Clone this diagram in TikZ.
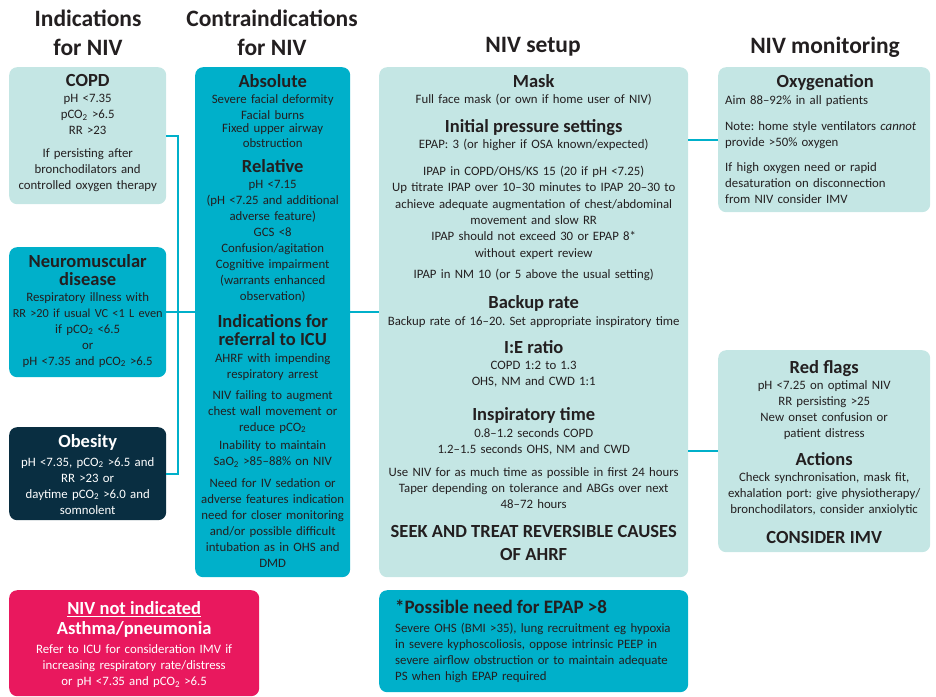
\documentclass[tikz,border=0pt]{standalone}
\usepackage{fontspec}
\setmainfont{Carlito}
\usepackage{tikz}
\usetikzlibrary{calc,positioning}

\definecolor{paleteal}{RGB}{196,230,228}
\definecolor{nivteal}{RGB}{0,176,202}
\definecolor{niavy}{RGB}{9,46,65}
\definecolor{niypink}{RGB}{233,24,94}
\definecolor{inkgrey}{RGB}{35,31,32}

\newcommand\hd[1]{{\centering\fontsize{18.5}{19}\selectfont\bfseries #1\par}}
\newcommand\gap[1][6pt]{\vspace{#1}}
\newcommand\cotwo{CO\textsubscript{2}}

\tikzset{
	panel/.style={rectangle, rounded corners=8pt, inner sep=0pt, anchor=north west},
	body/.style={inner sep=0pt, anchor=north, align=center, text=inkgrey,
		font=\fontsize{12.8}{16}\selectfont\frenchspacing},
	colhead/.style={inner sep=0pt, align=center, text=inkgrey,
		font=\fontsize{23.5}{29}\selectfont\bfseries},
	link/.style={draw=nivteal, line width=2pt}
}

\begin{document}
\begin{tikzpicture}[x=1pt, y=-1pt]
		%%%%% START %%%%%
		\useasboundingbox (0,0) rectangle (936,696);
		
		\node[colhead] (hindic) at (88,33) {Indications\\for NIV};
		\node[colhead] (hcontra) at (272,33) {Contraindications\\for NIV};
		\node[colhead] (hsetup) at (533,47) {NIV setup};
		\node[colhead] (hmonit) at (825,47) {NIV monitoring};
		
		%% indications
		\node[panel, fill=paleteal, minimum width=157, minimum height=137] (copd) at (9,67) {};
		\node[body, text width=170] (copdtxt) at ([yshift=-7pt]copd.north) {%
			\hd{COPD}
			pH <7.35\\ p\cotwo{} >6.5\\ RR >23\par\gap[7pt]
			If persisting after\\ bronchodilators and\\ controlled oxygen therapy};
		
		\node[panel, fill=nivteal, minimum width=157, minimum height=130] (neuro) at (9,247) {};
		\node[body, text width=170] (neurotxt) at ([yshift=-7pt]neuro.north) {%
			{\centering\fontsize{18.5}{18}\selectfont\bfseries Neuromuscular\\ disease\par}
			Respiratory illness with\\ {\fontsize{12.3}{16}\selectfont RR >20 if usual VC <1 L even}\\ if p\cotwo{} <6.5\\ or\\ pH <7.35 and p\cotwo{} >6.5};
		
		\node[panel, fill=niavy, minimum width=157, minimum height=93] (obese) at (9,427) {};
		\node[body, text width=170, text=white] (obesetxt) at ([yshift=-7pt]obese.north) {%
			\hd{Obesity}\gap[3pt]
			pH <7.35, p\cotwo{} >6.5 and\\ RR >23 or\\ daytime p\cotwo{} >6.0 and\\ somnolent};
		
		\node[panel, fill=niypink, minimum width=250, minimum height=106] (notniv) at (9,590) {};
		\node[body, text width=250, text=white] (notnivtxt) at ([yshift=-11pt]notniv.north) {%
			{\centering\fontsize{18.5}{20}\selectfont\bfseries \underline{NIV not indicated}\\ Asthma/pneumonia\par}\gap[3.5pt]
			Refer to ICU for consideration IMV if\\ increasing respiratory rate/distress\\ or pH <7.35 and p\cotwo{} >6.5};
		
		%% contraindications
		\node[panel, fill=nivteal, minimum width=155, minimum height=510] (contra) at (195,67) {};
		\node[body, text width=170] (contratxt) at ([yshift=-7pt]contra.north) {%
			\hd{Absolute}
			Severe facial deformity\\ Facial burns\\[-3pt] Fixed upper airway\\[-1pt] obstruction\par\gap[6pt]
			\hd{Relative}
			pH <7.15\\ (pH <7.25 and additional\\ adverse feature)\\ GCS <8\\ Confusion/agitation\\ Cognitive impairment\\ (warrants enhanced\\ observation)\par\gap[9pt]
			{\centering\fontsize{18.5}{18}\selectfont\bfseries Indications for\\ referral to ICU\par}\gap[1pt]
			AHRF with impending\\ respiratory arrest\par\gap[5pt]
			NIV failing to augment\\ chest wall movement or\\ reduce p\cotwo\par\gap[2.5pt]
			Inability to maintain\\ SaO\textsubscript{2} >85--88\% on NIV\par\gap[5.5pt]
			Need for IV sedation or\\ adverse features indication\\ need for closer monitoring\\ and/or possible difficult\\ intubation as in OHS and\\ DMD};
		
		%% setup
		\node[panel, fill=paleteal, minimum width=309, minimum height=510] (setup) at (379,67) {};
		\node[body, text width=305, font=\fontsize{12.8}{16.3}\selectfont\frenchspacing] (setuptxt) at ([yshift=-7pt]setup.north) {%
			\hd{Mask}
			Full face mask (or own if home user of NIV)\par\gap[10pt]
			\hd{Initial pressure settings}
			EPAP: 3 (or higher if OSA known/expected)\par\gap[10.5pt]
			IPAP in COPD/OHS/KS 15 (20 if pH <7.25)\\ Up titrate IPAP over 10--30 minutes to IPAP 20--30 to\\ achieve adequate augmentation of chest/abdominal\\ movement and slow RR\\ IPAP should not exceed 30 or EPAP 8*\\ without expert review\par\gap[5.5pt]
			IPAP in NM 10 (or 5 above the usual setting)\par\gap[11pt]
			\hd{Backup rate}
			Backup rate of 16--20. Set appropriate inspiratory time\par\gap[9pt]
			\hd{I:E ratio}
			COPD 1:2 to 1.3\\ OHS, NM and CWD 1:1\par\gap[16pt]
			\hd{Inspiratory time}
			0.8--1.2 seconds COPD\\ 1.2--1.5 seconds OHS, NM and CWD\par\gap[6.5pt]
			Use NIV for as much time as possible in first 24 hours\\ Taper depending on tolerance and ABGs over next\\ 48--72 hours\par\gap[5.5pt]
			{\fontsize{18.5}{23}\selectfont\bfseries SEEK AND TREAT REVERSIBLE CAUSES\\ OF AHRF\par}};
		
		\node[panel, fill=nivteal, minimum width=309, minimum height=102] (epap) at (379,590) {};
		\node[body, anchor=north west, align=left, text width=290] (epaptxt) at ([xshift=16pt, yshift=-10pt]epap.north west) {%
			{\fontsize{19}{22}\selectfont\bfseries *Possible need for EPAP >8\par}\gap[2.5pt]
			Severe OHS (BMI >35), lung recruitment eg hypoxia\\ in severe kyphoscoliosis, oppose intrinsic PEEP in\\ severe airflow obstruction or to maintain adequate\\ PS when high EPAP required};
		
		%% monitoring
		\node[panel, fill=paleteal, minimum width=212, minimum height=145] (oxy) at (718,67) {};
		\node[body, anchor=north west, align=left, text width=200] (oxytxt) at ([xshift=7pt, yshift=-7pt]oxy.north west) {%
			\hd{Oxygenation}\gap[1pt]
			Aim 88--92\% in all patients\par\gap[10pt]
			Note: home style ventilators \emph{cannot}\\ provide >50\% oxygen\par\gap[9pt]
			If high oxygen need or rapid\\ desaturation on disconnection\\ from NIV consider IMV};
		
		\node[panel, fill=paleteal, minimum width=212, minimum height=202] (redflag) at (718,350) {};
		\node[body, text width=212] (redflagtxt) at ([yshift=-10pt]redflag.north) {%
			\hd{Red flags}
			pH <7.25 on optimal NIV\\ RR persisting >25\\ New onset confusion or\\ patient distress\par\gap[9pt]
			\hd{Actions}
			Check synchronisation, mask fit,\\ exhalation port: give physiotherapy/\\ bronchodilators, consider anxiolytic\par\gap[11pt]
			\hd{CONSIDER IMV}};
		
		%% connectors
		\draw[link] (copd.east) -- ++(12,0) |- (obese.east);
		\draw[link] (neuro.east) -- (contra.west |- neuro.east);
		\draw[link] (contra.east |- neuro.east) -- (setup.west |- neuro.east);
		\draw[link] (setup.east |- oxy.west) -- (oxy.west);
		\draw[link] (setup.east |- redflag.west) -- (redflag.west);
		
		%%%%% END %%%%%
	\end{tikzpicture}
\end{document}
